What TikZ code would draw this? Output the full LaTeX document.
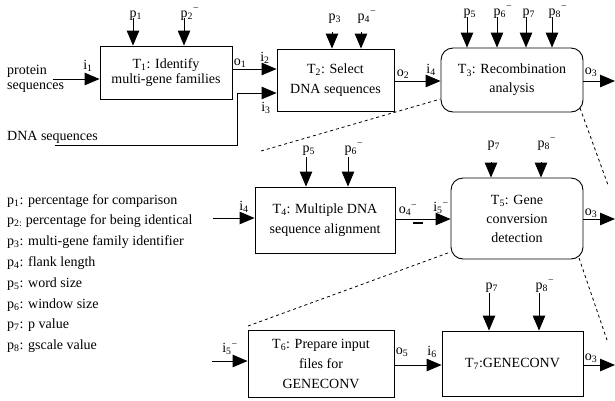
\documentclass[tikz,border=0pt]{standalone}
\usepackage{fontspec}
\setmainfont{Liberation Serif}
\usetikzlibrary{arrows.meta}
\newcommand\fs{\fontsize{14}{17}\selectfont}
\newcommand\sbx[1]{\textsubscript{#1}}
\newcommand\smn[1]{\textsubscript{#1}\textsuperscript{−}}
\begin{document}
\begin{tikzpicture}[x=1pt,y=-1pt,
  box/.style={draw, line width=0.9pt, align=center, inner sep=0pt},
  rbox/.style={box, rounded corners=12pt},
  arr/.style={line width=1pt, -{Triangle[length=15pt,width=12.5pt]}},
  wire/.style={line width=1pt},
  dline/.style={line width=0.8pt, dash pattern=on 3pt off 3pt},
  lbl/.style={font=\fs, inner sep=0pt},
  plbl/.style={font=\fs, inner sep=0pt, anchor=base west},
  leg/.style={font=\fs, inner sep=0pt, anchor=base west}]
\useasboundingbox (0,0) rectangle (615,400);

% boxes
\node[box, minimum width=132pt, minimum height=53pt, font=\fontsize{14}{15}\selectfont] (T1) at (166,72.5) {T\sbx{1}: Identify\\multi-gene families};
\node[box, minimum width=117pt, minimum height=62pt, font=\fontsize{14}{20}\selectfont] (T2) at (335.5,80) {T\sbx{2}: Select\\DNA sequences};
\node[rbox, minimum width=142pt, minimum height=64pt, font=\fontsize{14}{19}\selectfont] (T3) at (512,80) {T\sbx{3}: Recombination\\analysis};
\node[box, minimum width=140pt, minimum height=66pt, font=\fontsize{14}{20}\selectfont] (T4) at (325,220) {T\sbx{4}: Multiple DNA\\sequence alignment};
\node[rbox, minimum width=132pt, minimum height=81pt, font=\fontsize{14}{19}\selectfont] (T5) at (517,218.5) {T\sbx{5}: Gene\\conversion\\detection};
\node[box, minimum width=146pt, minimum height=67pt, font=\fontsize{14}{20}\selectfont] (T6) at (321,363.5) {T\sbx{6}: Prepare input\\files for\\GENECONV};
\node[box, minimum width=141pt, minimum height=65pt, font=\fontsize{14}{20}\selectfont] (T7) at (512.5,363.5) {T\sbx{7}:GENECONV};

% external inputs
\node[font=\fontsize{14}{15.5}\selectfont, inner sep=0pt, align=left, anchor=west] (prot) at (7,79) {protein\\sequences};
\node[leg] (dna) at (7,140) {DNA sequences};
\coordinate (in1) at (53,79);
\draw[arr] (in1) -- (in1 -| T1.west);
\coordinate (dna0) at (55,145);
\coordinate (dnac) at (237,93);
\draw[wire] (dna0) -| (dnac);
\draw[arr] (dnac) -- (dnac -| T2.west);

% flows
\draw[arr] (T1.east |- 0,69) -- (T2.west |- 0,69);
\draw[arr] (T2.east |- 0,81) -- (T3.west |- 0,81);
\coordinate (out1) at (615,81);
\draw[arr] (T3.east |- 0,81) -- (out1);
\coordinate (in4) at (213,218);
\draw[arr] (in4) -- (in4 -| T4.west);
\draw[arr] (T4.east |- 0,219) -- (T5.west |- 0,219);
\coordinate (out2) at (615,219);
\draw[arr] (T5.east |- 0,219) -- (out2);
\coordinate (in5) at (212,361);
\draw[arr] (in5) -- (in5 -| T6.west);
\draw[arr] (T6.east |- 0,365) -- (T7.west |- 0,365);
\coordinate (out3) at (615,365);
\draw[arr] (T7.east |- 0,365) -- (out3);
\draw[line width=1.1pt] (413,223) -- (423,223);

% flow labels
\node[lbl] (li1) at (88,66) {i\sbx{1}};
\node[lbl] (lo1) at (240,63) {o\sbx{1}};
\node[lbl] (li2) at (265,58) {i\sbx{2}};
\node[lbl] (li3) at (266,108) {i\sbx{3}};
\node[lbl] (lo2) at (403,74) {o\sbx{2}};
\node[lbl] (li4) at (431,70) {i\sbx{4}};
\node[lbl] (lo3a) at (591,72) {o\sbx{3}};
\node[lbl] (li4b) at (244,207) {i\sbx{4}};
\node[lbl] (lo4) at (408,210) {o\smn{4}};
\node[lbl] (li5) at (441,208) {i\smn{5}};
\node[lbl] (lo3b) at (591,213) {o\sbx{3}};
\node[lbl] (li5b) at (230,349) {i\smn{5}};
\node[lbl] (lo5) at (402,352) {o\sbx{5}};
\node[lbl] (li6) at (432,352) {i\sbx{6}};
\node[lbl] (lo3c) at (591,358) {o\sbx{3}};

% parameters T1
\coordinate (a1) at (133,18); \node[plbl] (p1a) at (129.5,17) {p\sbx{1}};
\draw[arr] (a1) -- (a1 |- T1.north);
\coordinate (a2) at (184,18); \node[plbl] (p2a) at (180.5,17) {p\smn{2}};
\draw[arr] (a2) -- (a2 |- T1.north);
% T2
\coordinate (a3) at (332,32); \node[plbl] (p3a) at (328.5,20) {p\sbx{3}};
\draw[arr] (a3) -- (a3 |- T2.north);
\coordinate (a4) at (361,32); \node[plbl] (p4a) at (357.5,20) {p\smn{4}};
\draw[arr] (a4) -- (a4 |- T2.north);
% T3
\coordinate (a5) at (467,17); \node[plbl] (p5a) at (463.5,15) {p\sbx{5}};
\draw[arr] (a5) -- (a5 |- T3.north);
\coordinate (a6) at (497,17); \node[plbl] (p6a) at (493.5,15) {p\smn{6}};
\draw[arr] (a6) -- (a6 |- T3.north);
\coordinate (a7) at (526,17); \node[plbl] (p7a) at (522.5,15) {p\sbx{7}};
\draw[arr] (a7) -- (a7 |- T3.north);
\coordinate (a8) at (552,17); \node[plbl] (p8a) at (548.5,15) {p\smn{8}};
\draw[arr] (a8) -- (a8 |- T3.north);
% T4
\coordinate (b5) at (306,157); \node[plbl] (p5b) at (302.5,152) {p\sbx{5}};
\draw[arr] (b5) -- (b5 |- T4.north);
\coordinate (b6) at (348,157); \node[plbl] (p6b) at (344.5,152) {p\smn{6}};
\draw[arr] (b6) -- (b6 |- T4.north);
% T5
\coordinate (c7) at (491,162); \node[plbl] (p7c) at (487.5,147) {p\sbx{7}};
\draw[arr] (c7) -- (c7 |- T5.north);
\coordinate (c8) at (541,162); \node[plbl] (p8c) at (537.5,147) {p\smn{8}};
\draw[arr] (c8) -- (c8 |- T5.north);
% T7
\coordinate (e7) at (489,293); \node[plbl] (p7e) at (485.5,289) {p\sbx{7}};
\draw[arr] (e7) -- (e7 |- T7.north);
\coordinate (e8) at (539,293); \node[plbl] (p8e) at (535.5,289) {p\smn{8}};
\draw[arr] (e8) -- (e8 |- T7.north);

% dashed zoom lines
\coordinate (z1) at (261,151);
\draw[dline] (z1) -- (T3.west |- 0,99);
\coordinate (z2) at (608,185);
\draw[dline] (580,108) -- (z2);
\coordinate (z3) at (248,326);
\draw[dline] (z3) -- (T5.west |- 0,252);
\coordinate (z4) at (607,340);
\draw[dline] (579,258) -- (z4);

% legend
\node[leg] (l1) at (7,204) {p\sbx{1}: percentage for comparison};
\node[leg] (l2) at (7,224.8) {p\sbx{2:} percentage for being identical};
\node[leg] (l3) at (7,245.6) {p\sbx{3}: multi-gene family identifier};
\node[leg] (l4) at (7,266.4) {p\sbx{4}: flank length};
\node[leg] (l5) at (7,287.2) {p\sbx{5}: word size};
\node[leg] (l6) at (7,308) {p\sbx{6}: window size};
\node[leg] (l7) at (7,328.8) {p\sbx{7}: p value};
\node[leg] (l8) at (7,349.6) {p\sbx{8}: gscale value};
\end{tikzpicture}
\end{document}
